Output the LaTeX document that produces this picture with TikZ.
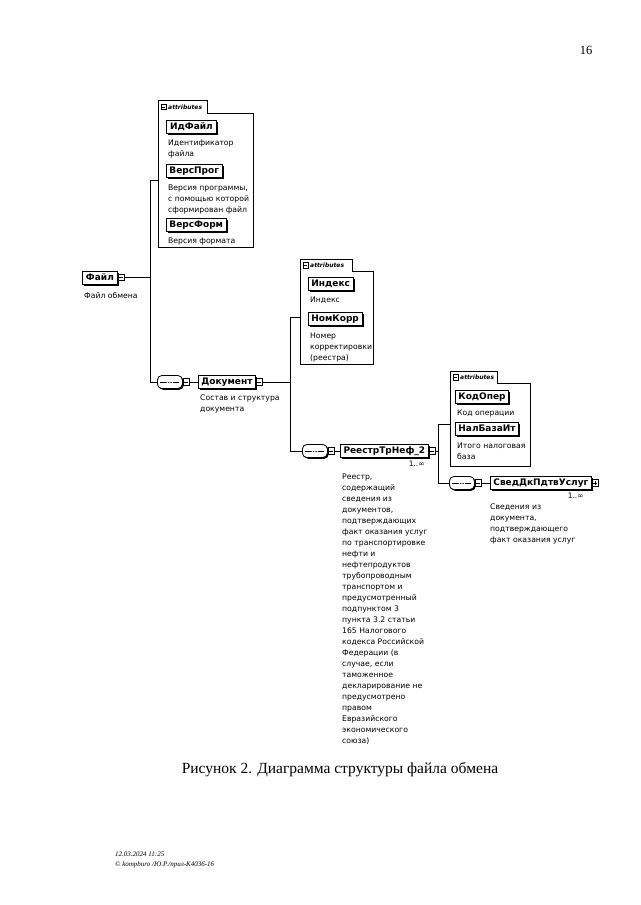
\documentclass[tikz,border=0pt]{standalone}
\usepackage{fontspec}
\setmainfont{Liberation Serif}
\newfontfamily\xsdfont{DejaVu Sans}
\usetikzlibrary{positioning,shadows}

\tikzset{
  conn/.style={line width=0.9pt},
  elem/.style={draw, fill=white, line width=0.8pt, anchor=west, inner xsep=3pt, inner ysep=1pt,
    minimum height=13pt, text height=7pt, text depth=1.8pt,
    font=\xsdfont\fontsize{9}{10}\selectfont\bfseries,
    drop shadow={shadow xshift=1.6pt, shadow yshift=-1.6pt, fill=black, opacity=1}},
  expminus/.style={draw, fill=white, line width=0.6pt, inner sep=0pt, minimum size=6.5pt,
    path picture={\draw[line width=0.6pt] ([xshift=1.2pt]path picture bounding box.west) -- ([xshift=-1.2pt]path picture bounding box.east);}},
  expplus/.style={draw, fill=white, line width=0.6pt, inner sep=0pt, minimum size=6.5pt,
    path picture={\draw[line width=0.6pt] ([xshift=1.2pt]path picture bounding box.west) -- ([xshift=-1.2pt]path picture bounding box.east);
      \draw[line width=0.6pt] ([yshift=-1.2pt]path picture bounding box.north) -- ([yshift=1.2pt]path picture bounding box.south);}},
  seq/.style={draw, fill=white, line width=0.8pt, anchor=west, rounded corners=4.5pt, minimum width=25pt,
    minimum height=13pt, inner sep=0pt,
    drop shadow={shadow xshift=1.3pt, shadow yshift=-1.3pt, fill=black, opacity=1},
    path picture={\draw[line width=0.6pt] ([xshift=3pt]path picture bounding box.west) -- ([xshift=-3pt]path picture bounding box.east);
      \foreach \d in {-2.5,0,2.5} \fill ([xshift=\d pt]path picture bounding box.center) circle (0.9pt);}},
  desc/.style={anchor=north west, align=left, inner sep=0pt, font=\xsdfont\fontsize{7.7}{11}\selectfont},
  card/.style={anchor=north east, inner sep=0pt, font=\xsdfont\fontsize{7.5}{8}\selectfont},
  attrbox/.style={anchor=north west, inner sep=0pt},
  attrtab/.style={anchor=south west, inner xsep=3pt, inner ysep=0pt, text width=43pt, align=left,
    minimum height=12pt, font=\xsdfont\fontsize{6}{6.5}\selectfont\bfseries\itshape}
}

\begin{document}
\begin{tikzpicture}[x=1pt, y=-1pt]
\useasboundingbox[fill=white] (0,0) rectangle (640,905);

% page number
\node[font=\fontsize{12.5}{14}\selectfont] (pnum) at (586,50) {16};

% root element
\node[elem, minimum width=35pt] (fajl) at (82,277.5) {Файл};
\node[expminus, right=0pt of fajl] (fajlx) {};
\node[desc] (fajld) at (84,292) {Файл обмена};
\coordinate (j1) at (150,277.5);

% attributes of Файл
\node[attrbox, minimum width=95pt, minimum height=134pt] (attr1) at (158,113) {};
\node[attrtab, text width=43pt] (tab1) at (attr1.north west) {\hspace*{7pt}attributes};
\node[expminus, minimum size=5.5pt, right=2.5pt of tab1.west] (tab1x) {};
\draw[conn] (tab1.north west) -- (tab1.north east) -- (tab1.south east) -- (attr1.north east)
  -- (attr1.south east) -- (attr1.south west) -- cycle;
\node[elem, minimum width=50pt] (idfajl) at (166,127) {ИдФайл};
\node[desc] (idfajld) at (168,139.5) {Идентификатор\\файла};
\node[elem, minimum width=51pt] (versprog) at (166,171) {ВерсПрог};
\node[desc] (versprogd) at (168,184.5) {Версия программы,\\с помощью которой\\сформирован файл};
\node[elem, minimum width=57pt] (versform) at (166,225) {ВерсФорм};
\node[desc] (versformd) at (168,237.5) {Версия формата};

% Документ
\node[seq] (seq1) at (157,382) {};
\node[expminus, right=0pt of seq1] (seq1x) {};
\node[elem, minimum width=55pt] (dok) at (198,382) {Документ};
\node[expminus, right=0pt of dok] (dokx) {};
\node[desc] (dokd) at (200,394.5) {Состав и структура\\документа};
\coordinate (j2) at (290,382);

% attributes of Документ
\node[attrbox, minimum width=73pt, minimum height=93pt] (attr2) at (300,271) {};
\node[attrtab, text width=46pt, minimum height=11pt] (tab2) at (attr2.north west) {\hspace*{7pt}attributes};
\node[expminus, minimum size=5.5pt, right=2.5pt of tab2.west] (tab2x) {};
\draw[conn] (tab2.north west) -- (tab2.north east) -- (tab2.south east) -- (attr2.north east)
  -- (attr2.south east) -- (attr2.south west) -- cycle;
\node[elem, minimum width=44pt] (indeks) at (308,284) {Индекс};
\node[desc] (indeksd) at (310,296.5) {Индекс};
\node[elem, minimum width=50pt] (nomkorr) at (308,319) {НомКорр};
\node[desc] (nomkorrd) at (310,333) {Номер\\корректировки\\(реестра)};

% РеестрТрНеф_2
\node[seq] (seq2) at (302,451) {};
\node[expminus, right=0pt of seq2] (seq2x) {};
\node[elem, minimum width=88pt] (reestr) at (340,451) {РеестрТрНеф\_2};
\node[expminus, right=0pt of reestr] (reestrx) {};
\node[card] (reestrc) at ([xshift=-4pt, yshift=-2.5pt]reestr.south east) {1..∞};
\node[desc] (reestrd) at (342,474) {Реестр,\\содержащий\\сведения из\\документов,\\подтверждающих\\факт оказания услуг\\по транспортировке\\нефти и\\нефтепродуктов\\трубопроводным\\транспортом и\\предусмотренный\\подпунктом 3\\пункта 3.2 статьи\\165 Налогового\\кодекса Российской\\Федерации (в\\случае, если\\таможенное\\декларирование не\\предусмотрено\\правом\\Евразийского\\экономического\\союза)};
\coordinate (j3) at (438,451);

% attributes of РеестрТрНеф_2
\node[attrbox, minimum width=80pt, minimum height=83pt] (attr3) at (450,383) {};
\node[attrtab, text width=41pt, minimum height=11pt] (tab3) at (attr3.north west) {\hspace*{7pt}attributes};
\node[expminus, minimum size=5.5pt, right=2.5pt of tab3.west] (tab3x) {};
\draw[conn] (tab3.north west) -- (tab3.north east) -- (tab3.south east) -- (attr3.north east)
  -- (attr3.south east) -- (attr3.south west) -- cycle;
\node[elem, minimum width=48pt] (kodoper) at (455,397) {КодОпер};
\node[desc] (kodoperd) at (457,410) {Код операции};
\node[elem, minimum width=58pt] (nalbaza) at (455,429) {НалБазаИт};
\node[desc] (nalbazad) at (457,443) {Итого налоговая\\база};

% СведДкПдтвУслуг
\node[seq] (seq3) at (449,483) {};
\node[expminus, right=0pt of seq3] (seq3x) {};
\node[elem, minimum width=99pt] (sved) at (490,483) {СведДкПдтвУслуг};
\node[expplus, right=0pt of sved] (svedx) {};
\node[card] (svedc) at ([xshift=-8pt, yshift=-2.5pt]sved.south east) {1..∞};
\node[desc] (svedd) at (490,504) {Сведения из\\документа,\\подтверждающего\\факт оказания услуг};

% connectors
\draw[conn] (fajlx) -- (j1);
\draw[conn] (j1) |- (attr1.west);
\draw[conn] (j1) |- (seq1.west);
\draw[conn] (seq1x) -- (dok);
\draw[conn] (dokx) -- (j2);
\draw[conn] (j2) |- (attr2.west);
\draw[conn] (j2) |- (seq2.west);
\draw[conn] (seq2x) -- (reestr);
\draw[conn] (reestrx) -- (j3);
\draw[conn] (j3) |- (attr3.west);
\draw[conn] (j3) |- (seq3.west);
\draw[conn] (seq3x) -- (sved);

% caption and footer
\node[font=\fontsize{15.5}{17}\selectfont] (cap) at (340,770) {Рисунок 2. Диаграмма структуры файла обмена};
\node[anchor=west, align=left, inner sep=0pt, font=\itshape\fontsize{7}{10}\selectfont] (foot) at (115,860) {12.03.2024 11:25\\© kompburo /Ю.Р./прил-К4036-16};
\end{tikzpicture}
\end{document}
